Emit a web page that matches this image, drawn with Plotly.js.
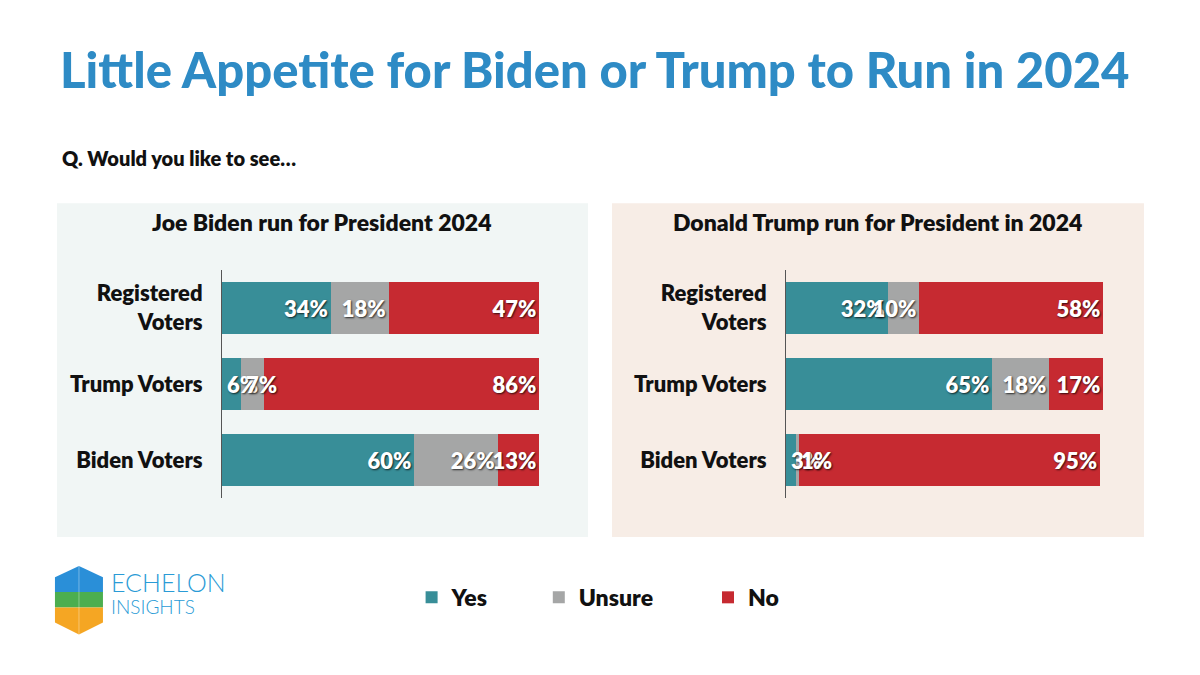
<!DOCTYPE html>
<html>
<head>
<meta charset="utf-8">
<script src="https://cdn.plot.ly/plotly-3.0.1.min.js"></script>
<style>html,body{margin:0;padding:0;background:#fff;}#chart{width:1200px;height:675px;}</style>
</head>
<body>
<div id="chart"></div>
<script>
const categories = ["Registered Voters", "Trump Voters", "Biden Voters"];
const tickLabels = ["Registered<br>Voters", "Trump Voters", "Biden Voters"];
const bidenYes = [34, 6, 60];
const bidenUnsure = [18, 7, 26];
const bidenNo = [47, 86, 13];
const trumpYes = [32, 65, 3];
const trumpUnsure = [10, 18, 1];
const trumpNo = [58, 17, 95];
const seriesNames = ["Yes", "Unsure", "No"];
const colors = ["#388e98", "#a5a6a6", "#c62a31"];

const F = "Lato, 'Open Sans', sans-serif";
const labelFont = {family: F, size: 22, color: '#ffffff', weight: 800, shadow: '1px 1px 2px rgba(0,0,0,0.75)'};
const legendIds = ['legend', 'legend2', 'legend3'];
const traces = [];
const smallLabels = [];
function addSet(vals, xa, ya, showLeg) {
  const cum = categories.map(() => 0);
  vals.forEach((v, i) => {
    const pos = v.map(val => val < 8 ? 'none' : 'inside');
    v.forEach((val, j) => {
      if (val < 8) {
        smallLabels.push({text: val + '%', x: cum[j], y: categories[j], xref: xa, yref: ya,
          xanchor: 'left', yanchor: 'middle', xshift: 3, showarrow: false, font: labelFont});
      }
      cum[j] += val;
    });
    traces.push({
      type: 'bar', orientation: 'h', name: seriesNames[i],
      y: categories, x: v, xaxis: xa, yaxis: ya,
      marker: {color: colors[i]},
      showlegend: showLeg, legend: legendIds[i],
      texttemplate: '%{x}%', textposition: pos, insidetextanchor: 'end',
      textangle: 0, constraintext: 'none', cliponaxis: false,
      textfont: labelFont,
      hoverinfo: 'skip'
    });
  });
}
addSet([bidenYes, bidenUnsure, bidenNo], 'x', 'y', true);
addSet([trumpYes, trumpUnsure, trumpNo], 'x2', 'y2', false);

const yBase = {
  type: 'category', categoryorder: 'array', categoryarray: categories,
  autorange: 'reversed', tickvals: categories, ticktext: tickLabels,
  showline: true, linecolor: '#555', linewidth: 1, ticks: '', ticklen: 0,
  ticklabelstandoff: 14,
  showgrid: false, zeroline: false,
  tickfont: {family: F, size: 22, color: '#111', weight: 800},
  domain: [0.262, 0.6]
};
const xBase = {showticklabels: false, showgrid: false, zeroline: false, showline: false, fixedrange: true};
const legBase = {orientation: 'h', xanchor: 'left', y: 0.115, yanchor: 'middle',
  font: {family: F, size: 23, color: '#111', weight: 800}, itemwidth: 30, bgcolor: 'rgba(0,0,0,0)'};

const layout = {
  width: 1200, height: 675,
  margin: {l: 0, r: 0, t: 0, b: 0},
  paper_bgcolor: '#ffffff', plot_bgcolor: 'rgba(0,0,0,0)',
  barmode: 'stack', bargap: 0.316,
  font: {family: F},
  xaxis: Object.assign({}, xBase, {range: [0, 99], domain: [0.185, 0.4495], anchor: 'y'}),
  yaxis: Object.assign({}, yBase, {anchor: 'x'}),
  xaxis2: Object.assign({}, xBase, {range: [0, 100], domain: [0.655, 0.9195], anchor: 'y2'}),
  yaxis2: Object.assign({}, yBase, {anchor: 'x2'}),
  showlegend: true,
  legend: Object.assign({}, legBase, {x: 0.343}),
  legend2: Object.assign({}, legBase, {x: 0.449}),
  legend3: Object.assign({}, legBase, {x: 0.590}),
  title: {text: 'Little Appetite for Biden or Trump to Run in 2024', x: 0.05, xanchor: 'left', y: 0.895, yanchor: 'middle',
    font: {family: F, size: 49, color: '#2e8bc5', weight: 900}},
  shapes: [
    {type: 'rect', xref: 'paper', yref: 'paper', x0: 0.0475, x1: 0.49, y0: 0.2044, y1: 0.699, fillcolor: '#f1f6f5', line: {width: 0}, layer: 'below'},
    {type: 'rect', xref: 'paper', yref: 'paper', x0: 0.51, x1: 0.9533, y0: 0.2044, y1: 0.699, fillcolor: '#f7ede6', line: {width: 0}, layer: 'below'},
    {type: 'path', xref: 'paper', yref: 'paper', path: 'M 0.0658 0.1615 L 0.0458 0.1448 L 0.0458 0.1230 L 0.0858 0.1230 L 0.0858 0.1448 Z', fillcolor: '#2a8fd8', line: {width: 0}},
    {type: 'path', xref: 'paper', yref: 'paper', path: 'M 0.0458 0.1230 L 0.0858 0.1230 L 0.0858 0.1000 L 0.0458 0.1000 Z', fillcolor: '#4cae4f', line: {width: 0}},
    {type: 'path', xref: 'paper', yref: 'paper', path: 'M 0.0458 0.1000 L 0.0858 0.1000 L 0.0858 0.0778 L 0.0658 0.0600 L 0.0458 0.0778 Z', fillcolor: '#f5a623', line: {width: 0}},
    {type: 'path', xref: 'paper', yref: 'paper', path: 'M 0.0658 0.1615 L 0.0658 0.0600', line: {color: 'rgba(255,255,255,0.35)', width: 1}}
  ],
  annotations: [
    {text: 'Q. Would you like to see…', xref: 'paper', yref: 'paper', x: 0.05, y: 0.766, xanchor: 'left', yanchor: 'middle', showarrow: false,
      font: {family: F, size: 20, color: '#111', weight: 800}},
    {text: 'Joe Biden run for President 2024', xref: 'paper', yref: 'paper', x: 0.2685, y: 0.671, xanchor: 'center', yanchor: 'middle', showarrow: false,
      font: {family: F, size: 23, color: '#111', weight: 800}},
    {text: 'Donald Trump run for President in 2024', xref: 'paper', yref: 'paper', x: 0.7315, y: 0.671, xanchor: 'center', yanchor: 'middle', showarrow: false,
      font: {family: F, size: 23, color: '#111', weight: 800}},
    {text: 'ECHELON', xref: 'paper', yref: 'paper', x: 0.091, y: 0.138, xanchor: 'left', yanchor: 'middle', showarrow: false,
      font: {family: 'Lato, sans-serif', size: 25, color: '#2a9bd6', weight: 300}},
    {text: 'INSIGHTS', xref: 'paper', yref: 'paper', x: 0.091, y: 0.102, xanchor: 'left', yanchor: 'middle', showarrow: false,
      font: {family: 'Lato, sans-serif', size: 19, color: '#2a9bd6', weight: 300}}
  ].concat(smallLabels)
};

Plotly.newPlot('chart', traces, layout, {displayModeBar: false, staticPlot: true});
</script>
</body>
</html>
